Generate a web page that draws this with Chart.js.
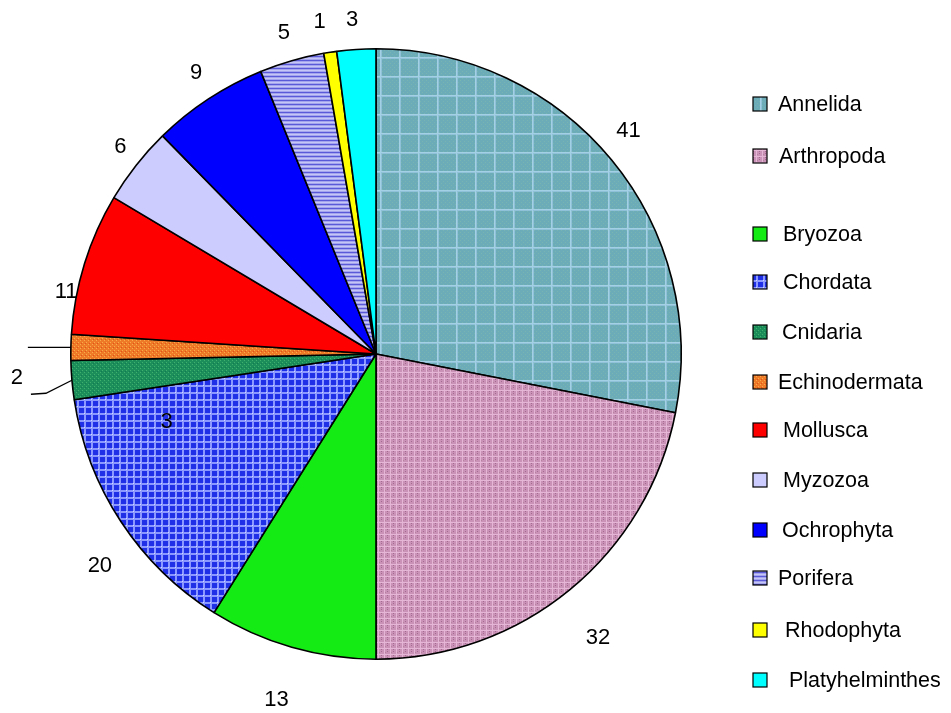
<!DOCTYPE html>
<html>
<head>
<meta charset="utf-8">
<script src="https://cdn.jsdelivr.net/npm/chart.js@4.4.1/dist/chart.umd.min.js"></script>
<style>
  html, body { margin: 0; padding: 0; background: #ffffff; }
  #wrap { width: 951px; height: 713px; position: relative; }
</style>
</head>
<body>
<div id="wrap"><canvas id="pie" width="951" height="713"></canvas></div>
<script>
// Phyla / groups and number of taxa recorded in each
const phyla = ['Annelida', 'Arthropoda', 'Bryozoa', 'Chordata', 'Cnidaria', 'Echinodermata',
               'Mollusca', 'Myzozoa', 'Ochrophyta', 'Porifera', 'Rhodophyta', 'Platyhelminthes'];
const taxaCounts = [41, 32, 13, 20, 3, 2, 11, 6, 9, 5, 1, 3];

// --- fills -------------------------------------------------------------
function tile(w, h, draw) {
  const c = document.createElement('canvas');
  c.width = w; c.height = h;
  const g = c.getContext('2d');
  draw(g, w, h);
  return g.createPattern(c, 'repeat');
}
const fills = [
  // Annelida: teal with a wide soft grid
  tile(19, 19, (g, w, h) => {
    g.fillStyle = '#6cabb8'; g.fillRect(0, 0, w, h);
    g.fillStyle = '#78b4b2';
    for (let y = 0; y < h; y += 2) for (let x = (y % 4); x < w; x += 4) g.fillRect(x, y, 1, 1);
    g.fillStyle = '#8fc2d8'; g.fillRect(0, 0, w, 2); g.fillRect(0, 0, 2, h);
    g.fillStyle = '#a4d0e6'; g.fillRect(0, 0, w, 1); g.fillRect(0, 0, 1, h);
  }),
  // Arthropoda: pink fine weave
  tile(6, 6, (g, w, h) => {
    g.fillStyle = '#c992b6'; g.fillRect(0, 0, w, h);
    g.fillStyle = '#e6b6d6'; g.fillRect(0, 0, 6, 1); g.fillRect(0, 0, 1, 6);
    g.fillStyle = '#a56a90'; g.fillRect(3, 3, 1, 1); g.fillRect(3, 1, 1, 1);
    g.fillStyle = '#b7849f'; g.fillRect(1, 4, 1, 1);
  }),
  '#14ea14',
  // Chordata: blue with pale grid
  tile(7, 7, (g, w, h) => {
    g.fillStyle = '#2030e6'; g.fillRect(0, 0, w, h);
    g.fillStyle = '#8a98ff'; g.fillRect(0, 0, w, 2); g.fillRect(0, 0, 2, h);
    g.fillStyle = '#d0d8ff'; g.fillRect(0, 0, 1, 1);
  }),
  // Cnidaria: green speckle
  tile(4, 4, (g, w, h) => {
    g.fillStyle = '#1b8e5a'; g.fillRect(0, 0, w, h);
    g.fillStyle = '#3fb06e'; g.fillRect(0, 0, 1, 1); g.fillRect(2, 2, 1, 1);
    g.fillStyle = '#137a56'; g.fillRect(1, 3, 1, 1);
  }),
  // Echinodermata: orange speckle
  tile(4, 4, (g, w, h) => {
    g.fillStyle = '#ee7a28'; g.fillRect(0, 0, w, h);
    g.fillStyle = '#f8ac4a'; g.fillRect(0, 0, 1, 1); g.fillRect(2, 2, 1, 1);
    g.fillStyle = '#e4501c'; g.fillRect(1, 3, 1, 1);
  }),
  '#ff0000',
  '#ccccff',
  '#0000ff',
  // Porifera: lavender with horizontal rules
  tile(8, 4, (g, w, h) => {
    g.fillStyle = '#a4a4ee'; g.fillRect(0, 0, w, h);
    g.fillStyle = '#5a5ad8'; g.fillRect(0, 0, w, 1);
    g.fillStyle = '#c6c6f6'; g.fillRect(0, 2, w, 1);
  }),
  '#ffff00',
  '#00ffff'
];

// --- label placement around the pie (distance from centre, angular nudge in degrees)
const labelDistance = [337, 360, 360, 348, 220, 360, 316, 329, 334, 334, 337, 335];
const labelNudge    = [-2, 1.4, 0, -4.2, -13, -5, -6, 0.8, 0.7, 0, -1, -0.4];

// --- legend layout
const legendY      = [104, 156, 234, 282, 332, 382, 430, 480, 530, 578, 630, 680];
const legendIndent = [0, 1, 5, 5, 4, 0, 5, 5, 4, 0, 7, 11];

const VALUE_FONT = '22px "Liberation Sans", Arial, sans-serif';
const LEGEND_FONT = '21.5px "Liberation Sans", Arial, sans-serif';

const valueLabels = {
  id: 'valueLabels',
  afterDatasetsDraw(chart) {
    const ctx = chart.ctx;
    const meta = chart.getDatasetMeta(0);
    const ds = chart.data.datasets[0];
    ctx.save();
    ctx.font = VALUE_FONT;
    ctx.fillStyle = '#000';
    ctx.textAlign = 'center';
    ctx.textBaseline = 'middle';
    meta.data.forEach((arc, i) => {
      const mid = (arc.startAngle + arc.endAngle) / 2 + labelNudge[i] * Math.PI / 180;
      const d = labelDistance[i];
      ctx.fillText(String(ds.data[i]), arc.x + d * Math.cos(mid), arc.y + d * Math.sin(mid));
    });

    // leader lines for the two thin slices on the left
    ctx.strokeStyle = '#000';
    ctx.lineWidth = 1.3;
    const edge = (i) => {
      const a = meta.data[i];
      const m = (a.startAngle + a.endAngle) / 2;
      return [a.x + a.outerRadius * Math.cos(m), a.y + a.outerRadius * Math.sin(m)];
    };
    const e5 = edge(phyla.indexOf('Echinodermata'));
    ctx.beginPath();
    ctx.moveTo(e5[0], e5[1]);
    ctx.lineTo(e5[0] - 43, e5[1]);
    ctx.stroke();
    const e4 = edge(phyla.indexOf('Cnidaria'));
    ctx.beginPath();
    ctx.moveTo(e4[0], e4[1]);
    ctx.lineTo(e4[0] - 26, e4[1] + 13);
    ctx.lineTo(e4[0] - 41, e4[1] + 14);
    ctx.stroke();

    // legend
    ctx.textAlign = 'left';
    ctx.font = LEGEND_FONT;
    chart.data.labels.forEach((name, i) => {
      const y = legendY[i];
      ctx.fillStyle = ds.backgroundColor[i];
      ctx.fillRect(753, y - 7, 14, 14);
      ctx.lineWidth = 1.2;
      ctx.strokeStyle = '#000';
      ctx.strokeRect(753, y - 7, 14, 14);
      ctx.fillStyle = '#000';
      ctx.fillText(name, 778 + legendIndent[i], y + 1);
    });
    ctx.restore();
  }
};

new Chart(document.getElementById('pie'), {
  type: 'pie',
  data: {
    labels: phyla,
    datasets: [{
      data: taxaCounts,
      backgroundColor: fills,
      borderColor: '#000000',
      borderWidth: 1.6,
      hoverOffset: 0
    }]
  },
  options: {
    responsive: false,
    animation: false,
    events: [],
    layout: { padding: { top: 48, bottom: 53, left: 70, right: 269 } },
    plugins: {
      legend: { display: false },
      tooltip: { enabled: false }
    }
  },
  plugins: [valueLabels]
});
</script>
</body>
</html>
